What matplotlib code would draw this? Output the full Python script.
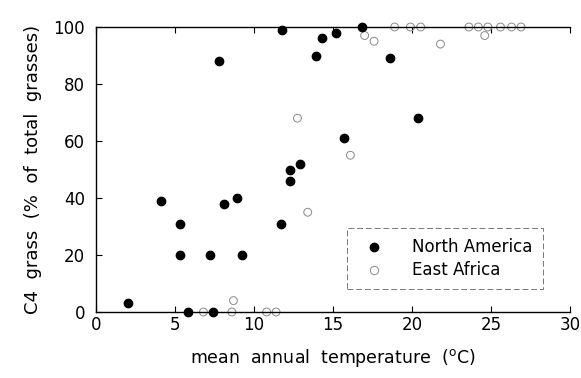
import matplotlib

matplotlib.use("Agg")
import matplotlib.pyplot as plt
from matplotlib.lines import Line2D

# North America (filled) and East Africa (open)
na_temp = [2.0, 4.1, 5.3, 5.3, 5.85, 7.2, 7.4, 7.8, 8.1, 8.95, 9.25, 11.7, 11.75,
           12.3, 12.3, 12.9, 13.9, 14.3, 15.2, 15.7, 16.85, 18.6, 20.4]
na_c4 = [3, 39, 31, 20, 0, 20, 0, 88, 38, 40, 20, 31, 99,
         50, 46, 52, 90, 96, 98, 61, 100, 89, 68]

ea_temp = [6.8, 8.6, 8.7, 10.8, 11.4, 12.75, 13.4, 16.1, 17.0, 17.6, 18.9, 19.9,
           20.55, 21.8, 23.6, 24.2, 24.6, 24.8, 25.6, 26.3, 26.9]
ea_c4 = [0, 0, 4, 0, 0, 68, 35, 55, 97, 95, 100, 100,
         100, 94, 100, 100, 97, 100, 100, 100, 100]

xticks = [0, 5, 10, 15, 20, 25, 30]
yticks = [0, 20, 40, 60, 80, 100]

plt.rcParams["font.family"] = ["DejaVu Sans"]

fig = plt.figure(figsize=(5.81, 3.78), dpi=100)
ax = fig.add_axes([96 / 581, 1 - 312 / 378, (570 - 96) / 581, (312 - 27) / 378])

ax.scatter(na_temp, na_c4, s=36, color="black", zorder=3, clip_on=False)
ax.scatter(ea_temp, ea_c4, s=32, facecolor="none", edgecolor="#8a8a8a",
           linewidths=0.7, zorder=2, clip_on=False)

ax.set_xlim(0, 30)
ax.set_ylim(0, 100)
ax.set_xticks(xticks)
ax.set_yticks(yticks)
ax.tick_params(direction="in", length=4, width=0.8, labelsize=12, top=True,
               right=False, pad=8)
ax.tick_params(axis="x", pad=3)
ax.spines["right"].set_visible(False)
for s in ("left", "bottom", "top"):
    ax.spines[s].set_linewidth(1.0)

ax.set_xlabel("mean  annual  temperature  (${}^{\\mathrm{o}}$C)", fontsize=12.5, labelpad=9)
ax.set_ylabel("C4  grass  (%  of  total  grasses)", fontsize=13, labelpad=8)

handles = [
    Line2D([], [], marker="o", ls="none", color="black", markersize=6, label="North America"),
    Line2D([], [], marker="o", ls="none", markerfacecolor="none", markeredgecolor="#8a8a8a",
           markeredgewidth=0.7, markersize=6, label="East Africa"),
]
leg = ax.legend(handles=handles, loc="lower right", bbox_to_anchor=(0.96, 0.05),
                fontsize=12, frameon=True, fancybox=False, borderpad=0.6,
                handlelength=2.0, handletextpad=1.3, labelspacing=0.3)
leg.get_frame().set_edgecolor("#555555")
leg.get_frame().set_linestyle((0, (6, 3)))
leg.get_frame().set_linewidth(0.7)

fig.savefig("out.png")
